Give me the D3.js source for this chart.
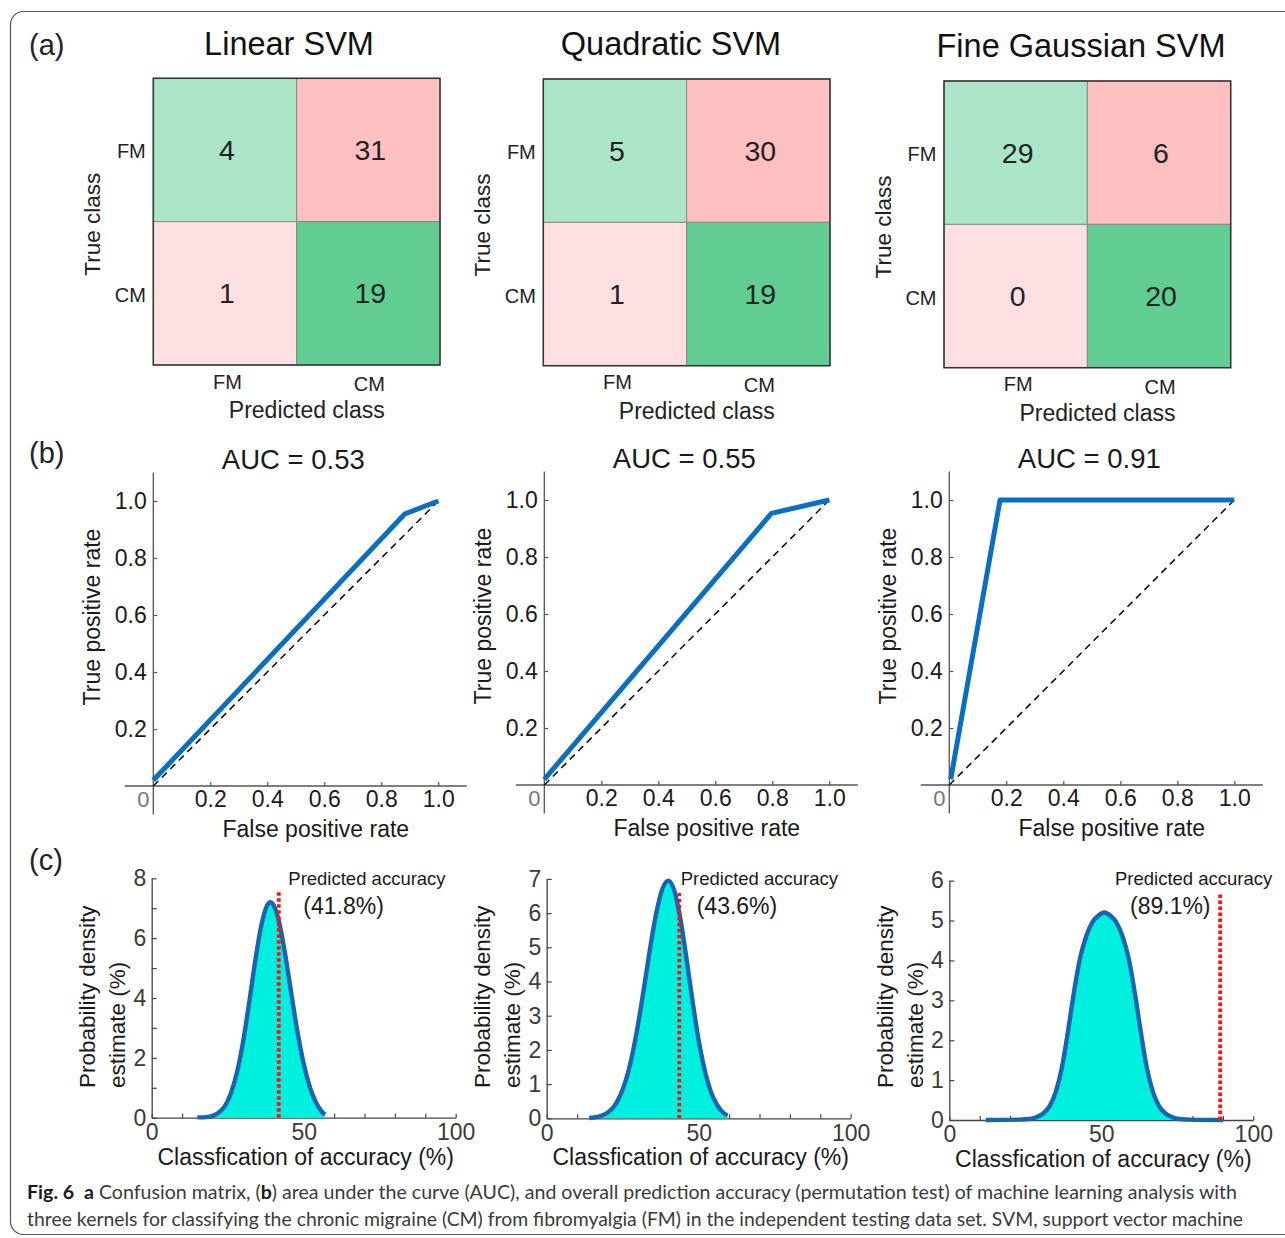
<!DOCTYPE html>
<html>
<head>
<meta charset="utf-8">
<script src="https://cdn.jsdelivr.net/npm/d3@7"></script>
<style>
  body { margin: 0; background: #fff; }
  svg text { font-family: "Liberation Sans", Arial, sans-serif; }
  svg text.caption { font-family: Lato, "Open Sans", sans-serif; }
</style>
</head>
<body>
<div id="fig"></div>
<script>
// ---- data ----
var classes = ["FM", "CM"];
var modelNames = ["Linear SVM", "Quadratic SVM", "Fine Gaussian SVM"];

// confusion counts: rows = true class, cols = predicted class
var cmLinear = [[4, 31], [1, 19]];
var cmQuadratic = [[5, 30], [1, 19]];
var cmGaussian = [[29, 6], [0, 20]];

// ROC curves [fpr, tpr]
var aucLabels = ["0.53", "0.55", "0.91"];
var rocLinear = [[0, 0.02], [0.883, 0.955], [1, 1]];
var rocQuadratic = [[0, 0.02], [0.797, 0.953], [1, 1]];
var rocGaussian = [[0.005, 0.02], [0.178, 1], [1, 1]];
var rocTicks = [0.2, 0.4, 0.6, 0.8, 1.0];

// permutation test densities
var accLinearX = [15, 18, 20, 22, 24, 26, 28, 30, 32, 34, 36, 38, 39, 40, 42, 44, 46, 48, 50, 52, 54, 56, 57];
var accLinearY = [0.01, 0.02, 0.06, 0.17, 0.38, 0.8, 1.49, 2.5, 3.8, 5.2, 6.4, 7.1, 7.2, 7.12, 6.5, 5.4, 4.1, 2.84, 1.8, 1.03, 0.52, 0.2, 0.1];
var accQuadX = [14, 17, 20, 22, 24, 26, 28, 30, 32, 34, 36, 38, 40, 42, 44, 46, 48, 50, 52, 54, 56, 58, 59.5];
var accQuadY = [0.01, 0.05, 0.16, 0.33, 0.63, 1.1, 1.8, 2.72, 3.81, 4.96, 5.98, 6.69, 6.95, 6.65, 5.82, 4.66, 3.41, 2.28, 1.4, 0.78, 0.4, 0.17, 0.08];
var accGaussX = [12, 23, 27, 29, 31, 33, 35, 37, 39, 41, 43, 45, 47, 49, 51, 53, 55, 57, 59, 61, 63, 65, 67, 69, 71, 73, 75, 79, 90];
var accGaussY = [0, 0.01, 0.03, 0.08, 0.17, 0.35, 0.7, 1.3, 2.2, 3.2, 4.05, 4.6, 4.95, 5.12, 5.2, 5.12, 4.95, 4.6, 4.05, 3.2, 2.2, 1.3, 0.7, 0.35, 0.17, 0.08, 0.03, 0.01, 0];
var predictedAcc = [41.8, 43.6, 89.1];
var predLineTop = [7.55, 6.65, 5.7];
var densityMax = [8, 7, 6];

// ---- layout ----
var W = 1285, H = 1238;
var matX = [153.3, 543.3, 944], matY = [78.3, 79, 81], matSize = 286.7;
var titleX = [289, 671, 1081], titleY = [55, 55, 57.3];
var rocX = [153.3, 544.3, 949.3], rocY = [786, 785, 785], rocSize = 285;
var denX = [151.7, 546.7, 949.3], denY = [1117.7, 1118.3, 1120], denW = 304, denH = 239.4;
var annoX = [288.3, 680.7, 1115], pctX = [303.3, 696.7, 1130];

var cellColors = [["#abe5c7", "#fec0c0"], ["#fee0e2", "#62cd93"]];
var rocBlue = "#0a6fc2", curveBlue = "#1665b0", cyan = "#00f0e0";

var svg = d3.select("#fig").append("svg")
  .attr("width", W)
  .attr("height", H);

// outer frame
svg.append("rect")
  .attr("x", 10.5).attr("y", 11.5)
  .attr("width", 1320).attr("height", 1223)
  .attr("rx", 13)
  .attr("fill", "none")
  .attr("stroke", "#555")
  .attr("stroke-width", 1.2);

// panel letters
svg.append("text").attr("x", 29).attr("y", 55).attr("font-size", 29).attr("fill", "#222").text("(a)");
svg.append("text").attr("x", 29).attr("y", 463).attr("font-size", 29).attr("fill", "#222").text("(b)");
svg.append("text").attr("x", 29).attr("y", 870).attr("font-size", 29).attr("fill", "#222").text("(c)");

// ---- (a) confusion matrices ----
function drawMatrix(i, counts) {
  var g = svg.append("g");
  var x = d3.scaleBand().domain(classes).range([matX[i], matX[i] + matSize]);
  var y = d3.scaleBand().domain(classes).range([matY[i], matY[i] + matSize]);

  g.append("text")
    .attr("x", titleX[i]).attr("y", titleY[i])
    .attr("text-anchor", "middle")
    .attr("font-size", 32.5)
    .attr("fill", "#111")
    .text(modelNames[i]);

  classes.forEach(function(tc, r) {
    classes.forEach(function(pc, c) {
      g.append("rect")
        .attr("x", x(pc)).attr("y", y(tc))
        .attr("width", x.bandwidth()).attr("height", y.bandwidth())
        .attr("fill", cellColors[r][c])
        .attr("stroke", "#888")
        .attr("stroke-width", 1);
      g.append("text")
        .attr("x", x(pc) + x.bandwidth() / 2 + 2)
        .attr("y", y(tc) + y.bandwidth() / 2 + 10)
        .attr("text-anchor", "middle")
        .attr("font-size", 28.5)
        .attr("fill", "#222")
        .text(counts[r][c]);
    });
  });

  g.append("rect")
    .attr("x", matX[i]).attr("y", matY[i])
    .attr("width", matSize).attr("height", matSize)
    .attr("fill", "none")
    .attr("stroke", "#333")
    .attr("stroke-width", 1.5);

  // true class labels
  classes.forEach(function(tc) {
    g.append("text")
      .attr("x", matX[i] - 7.5)
      .attr("y", y(tc) + y.bandwidth() / 2 + 8.5)
      .attr("text-anchor", "end")
      .attr("font-size", 20)
      .attr("fill", "#222")
      .text(tc);
  });
  // predicted labels (CM sits a touch lower in the original)
  var dx = [2.5, 1], dy = [23.7, 25.8];
  classes.forEach(function(pc, c) {
    g.append("text")
      .attr("x", x(pc) + x.bandwidth() / 2 + dx[c])
      .attr("y", matY[i] + matSize + dy[c])
      .attr("text-anchor", "middle")
      .attr("font-size", 20)
      .attr("fill", "#222")
      .text(pc);
  });

  g.append("text")
    .attr("transform", "translate(" + (matX[i] - 61) + "," + (matY[i] + 146) + ") rotate(-90)")
    .attr("dy", "0.35em")
    .attr("text-anchor", "middle")
    .attr("font-size", 22.5)
    .attr("fill", "#222")
    .text("True class");

  g.append("text")
    .attr("x", matX[i] + 153.5)
    .attr("y", matY[i] + matSize + 53)
    .attr("text-anchor", "middle")
    .attr("font-size", 23)
    .attr("fill", "#222")
    .text("Predicted class");
}

drawMatrix(0, cmLinear);
drawMatrix(1, cmQuadratic);
drawMatrix(2, cmGaussian);

// ---- (b) ROC curves ----
function drawRoc(i, pts) {
  var g = svg.append("g");
  var x = d3.scaleLinear().domain([0, 1]).range([rocX[i], rocX[i] + rocSize]);
  var y = d3.scaleLinear().domain([0, 1]).range([rocY[i], rocY[i] - rocSize]);

  // axis lines run a little past the origin, MATLAB style
  g.append("line")
    .attr("x1", x(-0.1)).attr("x2", x(1.1))
    .attr("y1", y(0)).attr("y2", y(0))
    .attr("stroke", "#555").attr("stroke-width", 1.3);
  g.append("line")
    .attr("x1", x(0)).attr("x2", x(0))
    .attr("y1", y(-0.1)).attr("y2", y(1.1))
    .attr("stroke", "#555").attr("stroke-width", 1.3);

  var xAxis = g.append("g")
    .attr("transform", "translate(0," + y(0) + ")")
    .call(d3.axisBottom(x).tickValues(rocTicks).tickFormat(d3.format(".1f"))
      .tickSizeInner(-4).tickSizeOuter(0).tickPadding(4.5));
  var yAxis = g.append("g")
    .attr("transform", "translate(" + x(0) + ",0)")
    .call(d3.axisLeft(y).tickValues(rocTicks).tickFormat(d3.format(".1f"))
      .tickSizeInner(-4).tickSizeOuter(0).tickPadding(6.5));
  [xAxis, yAxis].forEach(function(ax) {
    ax.select(".domain").remove();
    ax.selectAll("line").attr("stroke", "#555").attr("stroke-width", 1.2);
    ax.selectAll("text").attr("font-size", 23).attr("fill", "#1a1a1a");
  });

  g.append("text")
    .attr("x", x(0) - 10).attr("y", y(0) + 20.7)
    .attr("text-anchor", "middle")
    .attr("font-size", 22)
    .attr("fill", "#777")
    .text("0");

  // chance diagonal
  g.append("line")
    .attr("x1", x(0)).attr("y1", y(0))
    .attr("x2", x(1)).attr("y2", y(1))
    .attr("stroke", "#111")
    .attr("stroke-width", 1.6)
    .attr("stroke-dasharray", "7,5");

  var line = d3.line().x(function(d) { return x(d[0]); }).y(function(d) { return y(d[1]); });
  g.append("path")
    .datum(pts)
    .attr("d", line)
    .attr("fill", "none")
    .attr("stroke", rocBlue)
    .attr("stroke-width", 5)
    .attr("stroke-linejoin", "round");

  g.append("text")
    .attr("x", x(0) + 140).attr("y", y(0) - 317)
    .attr("text-anchor", "middle")
    .attr("font-size", 27.5)
    .attr("fill", "#1a1a1a")
    .text("AUC = " + aucLabels[i]);

  g.append("text")
    .attr("transform", "translate(" + (x(0) - 61) + "," + (y(0) - 169) + ") rotate(-90)")
    .attr("dy", "0.35em")
    .attr("text-anchor", "middle")
    .attr("font-size", 23)
    .attr("fill", "#1a1a1a")
    .text("True positive rate");

  g.append("text")
    .attr("x", x(0) + 162.5).attr("y", y(0) + 50.7)
    .attr("text-anchor", "middle")
    .attr("font-size", 23)
    .attr("fill", "#1a1a1a")
    .text("False positive rate");
}

drawRoc(0, rocLinear);
drawRoc(1, rocQuadratic);
drawRoc(2, rocGaussian);

// ---- (c) permutation densities ----
function drawDensity(i, xs, ys) {
  var g = svg.append("g");
  var x = d3.scaleLinear().domain([0, 100]).range([denX[i], denX[i] + denW]);
  var y = d3.scaleLinear().domain([0, densityMax[i]]).range([denY[i], denY[i] - denH]);
  var pts = xs.map(function(v, k) { return [v, ys[k]]; });

  var area = d3.area()
    .x(function(d) { return x(d[0]); })
    .y0(y(0))
    .y1(function(d) { return y(d[1]); })
    .curve(d3.curveMonotoneX);
  var line = d3.line()
    .x(function(d) { return x(d[0]); })
    .y(function(d) { return y(d[1]); })
    .curve(d3.curveMonotoneX);

  var xAxis = g.append("g")
    .attr("transform", "translate(0," + y(0) + ")")
    .call(d3.axisBottom(x).tickValues(d3.range(0, 101, 10))
      .tickFormat(function(d) { return d % 50 === 0 ? d : ""; })
      .tickSizeInner(-4).tickSizeOuter(0).tickPadding(6));
  var yAxis = g.append("g")
    .attr("transform", "translate(" + x(0) + ",0)")
    .call(d3.axisLeft(y).tickValues(d3.range(0, densityMax[i] + 1))
      .tickFormat(function(d) { return (densityMax[i] === 8 && d % 2) ? "" : d; })
      .tickSizeInner(-5).tickSizeOuter(0).tickPadding(5.5));
  [xAxis, yAxis].forEach(function(ax) {
    ax.select(".domain").attr("stroke", "#444").attr("stroke-width", 1.3);
    ax.selectAll("line").attr("stroke", "#444").attr("stroke-width", 1.2);
    ax.selectAll("text").attr("font-size", 23).attr("fill", "#3a3a3a");
  });

  g.append("path").datum(pts).attr("d", area).attr("fill", cyan);
  g.append("path").datum(pts).attr("d", line)
    .attr("fill", "none")
    .attr("stroke", curveBlue)
    .attr("stroke-width", 4.4)
    .attr("stroke-linejoin", "round");

  g.append("line")
    .attr("x1", x(predictedAcc[i])).attr("x2", x(predictedAcc[i]))
    .attr("y1", y(0)).attr("y2", y(predLineTop[i]))
    .attr("stroke", "#ff1010")
    .attr("stroke-width", 3.8)
    .attr("stroke-dasharray", "3.4,2.6");

  g.append("text")
    .attr("x", annoX[i]).attr("y", 885)
    .attr("font-size", 18.5)
    .attr("fill", "#1a1a1a")
    .text("Predicted accuracy");
  g.append("text")
    .attr("x", pctX[i]).attr("y", 914)
    .attr("font-size", 23)
    .attr("fill", "#1a1a1a")
    .text("(" + predictedAcc[i] + "%)");

  g.append("text")
    .attr("transform", "translate(" + (x(0) - 64.5) + ",1088) rotate(-90)")
    .attr("dy", "0.35em")
    .attr("font-size", 22.5)
    .attr("fill", "#1a1a1a")
    .text("Probability density");
  g.append("text")
    .attr("transform", "translate(" + (x(0) - 34.5) + ",1088) rotate(-90)")
    .attr("dy", "0.35em")
    .attr("font-size", 22.5)
    .attr("fill", "#1a1a1a")
    .text("estimate (%)");

  g.append("text")
    .attr("x", x(0) + 154).attr("y", y(0) + 47)
    .attr("text-anchor", "middle")
    .attr("font-size", 23)
    .attr("fill", "#1a1a1a")
    .text("Classfication of accuracy (%)");
}

drawDensity(0, accLinearX, accLinearY);
drawDensity(1, accQuadX, accQuadY);
drawDensity(2, accGaussX, accGaussY);

// ---- caption ----
var cap1 = svg.append("text")
  .attr("class", "caption")
  .attr("x", 27).attr("y", 1199)
  .attr("font-size", 19)
  .attr("fill", "#3a3a3a")
  .attr("textLength", 1210)
  .attr("lengthAdjust", "spacingAndGlyphs");
cap1.append("tspan").attr("font-weight", "bold").attr("fill", "#1a1a1a").text("Fig. 6");
cap1.append("tspan").text("\u2002");
cap1.append("tspan").attr("font-weight", "bold").attr("fill", "#1a1a1a").text("a");
cap1.append("tspan").text(" Confusion matrix, (");
cap1.append("tspan").attr("font-weight", "bold").attr("fill", "#1a1a1a").text("b");
cap1.append("tspan").text(") area under the curve (AUC), and overall prediction accuracy (permutation test) of machine learning analysis with");

svg.append("text")
  .attr("class", "caption")
  .attr("x", 27).attr("y", 1226)
  .attr("font-size", 19)
  .attr("fill", "#3a3a3a")
  .attr("textLength", 1216)
  .attr("lengthAdjust", "spacingAndGlyphs")
  .text("three kernels for classifying the chronic migraine (CM) from fibromyalgia (FM) in the independent testing data set. SVM, support vector machine");
</script>
</body>
</html>
